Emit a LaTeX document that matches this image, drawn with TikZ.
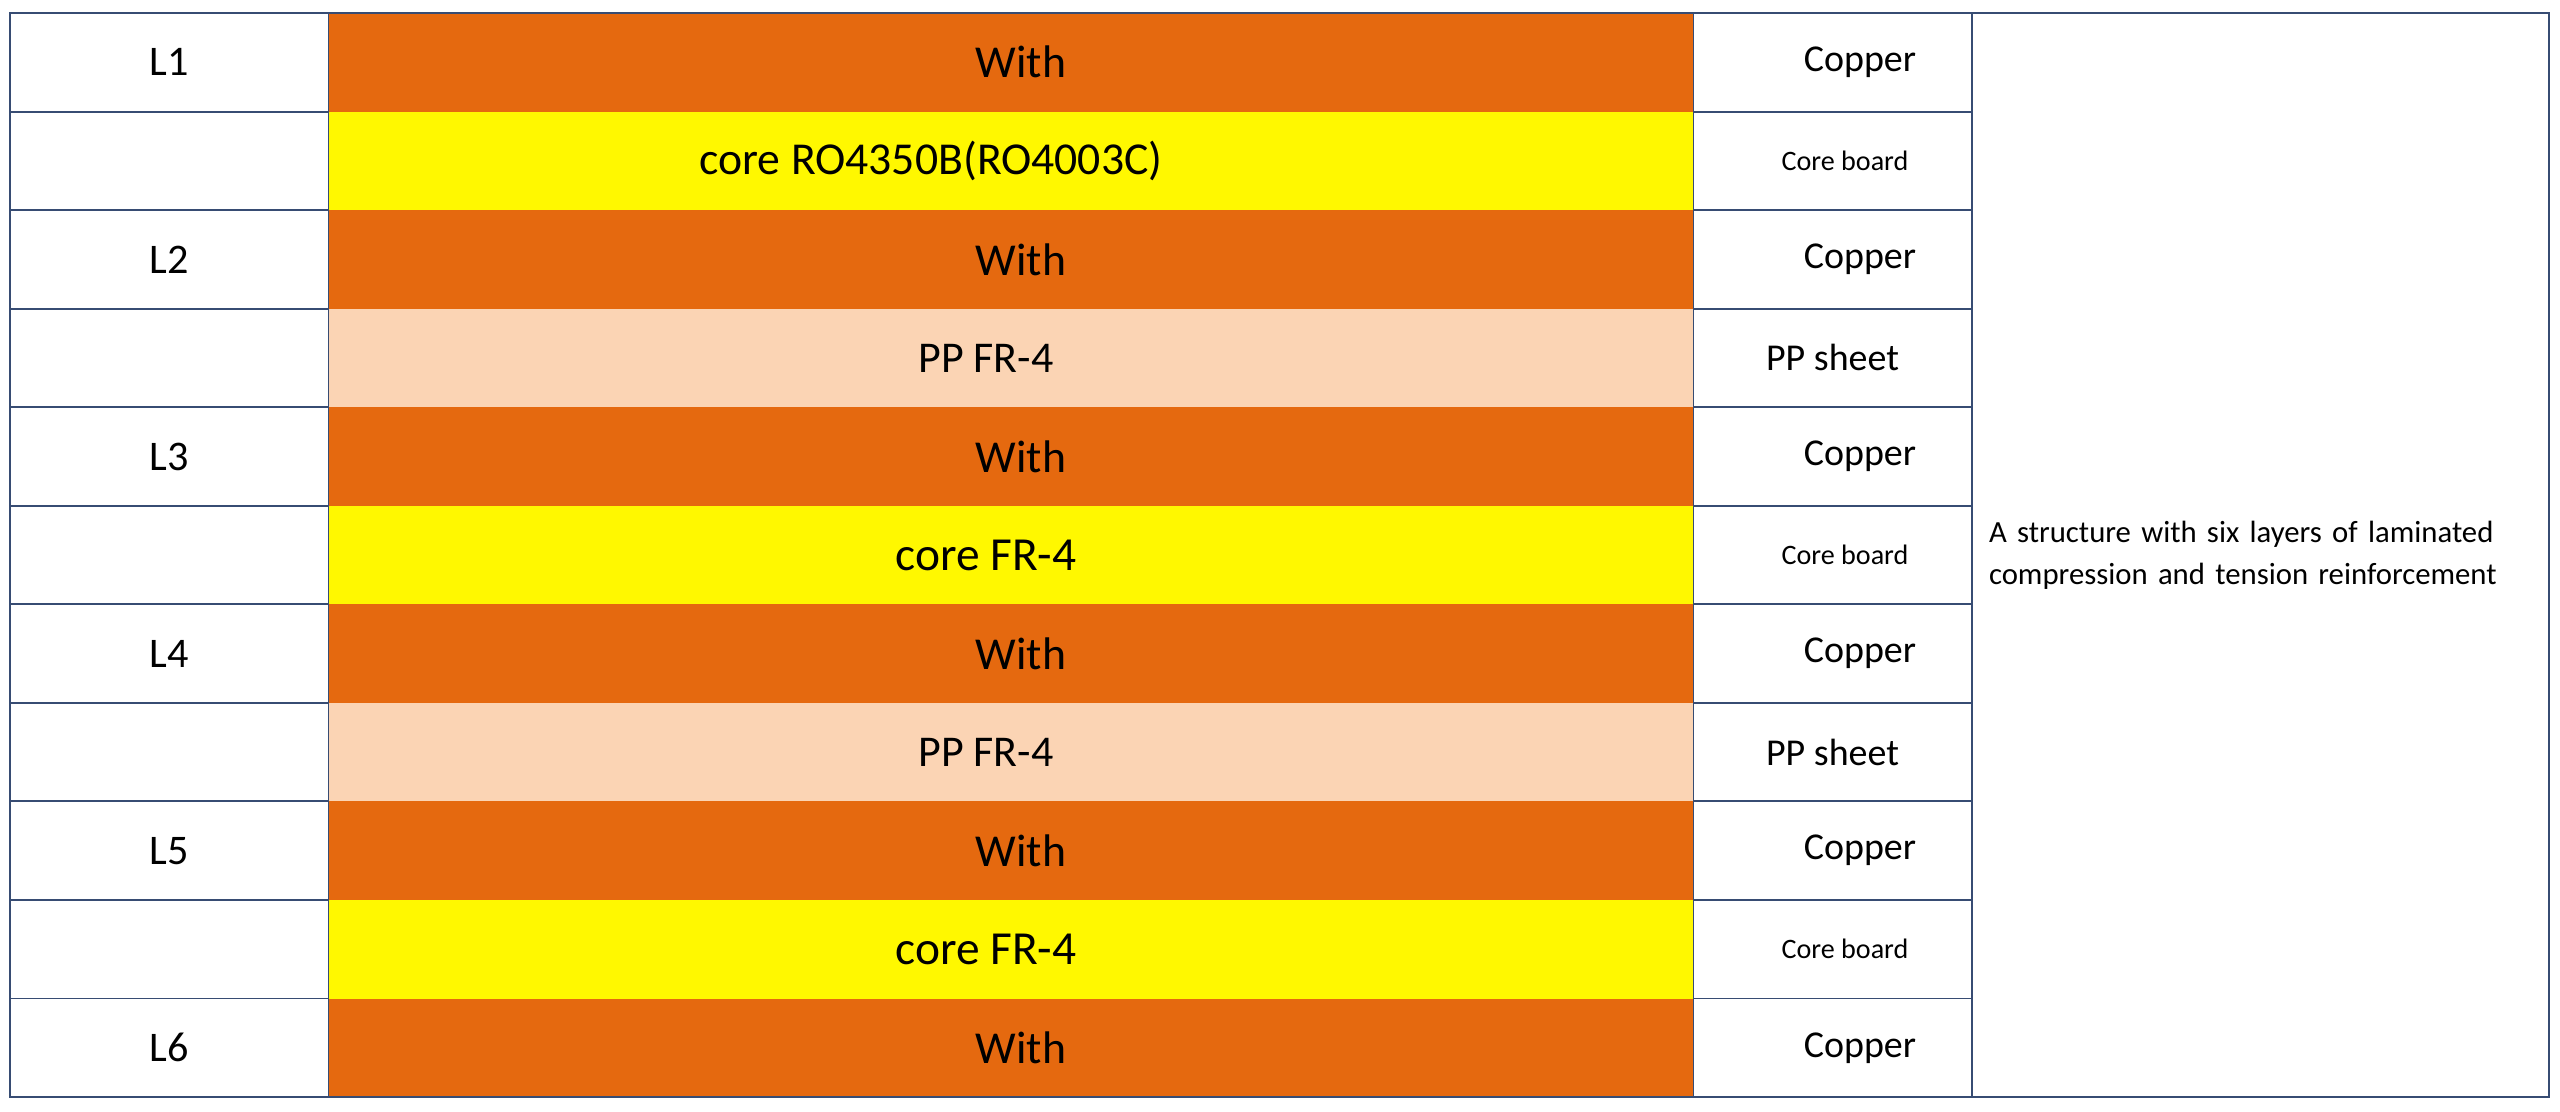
\documentclass[tikz,border=0pt]{standalone}
\usepackage{fontspec}
\setmainfont{Carlito}
\usetikzlibrary{positioning, backgrounds}

\definecolor{copperfill}{RGB}{229,105,15}
\definecolor{corefill}{RGB}{255,248,0}
\definecolor{ppfill}{RGB}{251,212,180}
\definecolor{gridline}{RGB}{55,76,115}

\begin{document}
\begin{tikzpicture}
    % Styles
    \tikzset{
        band/.style={rectangle, outer sep=0pt, inner sep=0pt, minimum width=27.28cm, minimum height=1.971cm},
        copper/.style={band, fill=copperfill, font=\fontsize{26}{31}\selectfont},
        core/.style={band, fill=corefill},
        pp/.style={band, fill=ppfill},
        band_text/.style={font=\fontsize{27}{32}\selectfont, xshift=-0.5cm},
        tag/.style={rectangle, draw=gridline, line width=1.1pt, outer sep=0pt, minimum width=6.38cm, minimum height=1.971cm, font=\fontsize{24}{29}\selectfont},
        kind/.style={tag, minimum width=5.58cm, font=\fontsize{21.6}{26}\selectfont},
        kind_small/.style={kind, font=\fontsize{16}{20}\selectfont},
        note/.style={rectangle, draw=gridline, line width=1.1pt, outer sep=0pt, minimum height=21.68cm, text width=10.86cm, inner xsep=0.34cm, align=left, font=\fontsize{17.5}{23.9}\selectfont}
    }

    \useasboundingbox (0,0) rectangle (51.2,-22.22);

    % --- Stack (middle column) ---
    \node[copper] (band1) at (20.22,-1.2455) {\hspace{0.4cm}With};
    \node[core, below=0pt of band1, label={[band_text, font=\fontsize{26}{31}\selectfont, xshift=-1.1cm]center:core RO4350B(RO4003C)}] (band2) {};
    \node[copper, below=0pt of band2] (band3) {\hspace{0.4cm}With};
    \node[pp, below=0pt of band3, label={[band_text, font=\fontsize{25}{30}\selectfont]center:PP FR-4}] (band4) {};
    \node[copper, below=0pt of band4] (band5) {\hspace{0.4cm}With};
    \node[core, below=0pt of band5, label={[band_text]center:core FR-4}] (band6) {};
    \node[copper, below=0pt of band6] (band7) {\hspace{0.4cm}With};
    \node[pp, below=0pt of band7, label={[band_text, font=\fontsize{25}{30}\selectfont]center:PP FR-4}] (band8) {};
    \node[copper, below=0pt of band8] (band9) {\hspace{0.4cm}With};
    \node[core, below=0pt of band9, label={[band_text]center:core FR-4}] (band10) {};
    \node[copper, below=0pt of band10] (band11) {\hspace{0.4cm}With};

    % --- Layer names and materials (behind the stack) ---
    \begin{scope}[on background layer]
        \node[tag, left=0pt of band1] (tag1) {L1};
        \node[tag, left=0pt of band2] (tag2) {};
        \node[tag, left=0pt of band3] (tag3) {L2};
        \node[tag, left=0pt of band4] (tag4) {};
        \node[tag, left=0pt of band5] (tag5) {L3};
        \node[tag, left=0pt of band6] (tag6) {};
        \node[tag, left=0pt of band7] (tag7) {L4};
        \node[tag, left=0pt of band8] (tag8) {};
        \node[tag, left=0pt of band9] (tag9) {L5};
        \node[tag, left=0pt of band10] (tag10) {};
        \node[tag, left=0pt of band11] (tag11) {L6};

        \node[kind, right=0pt of band1] (kind1) {\hspace{1.1cm}Copper};
        \node[kind_small, right=0pt of band2] (kind2) {\hspace{0.5cm}Core board};
        \node[kind, right=0pt of band3] (kind3) {\hspace{1.1cm}Copper};
        \node[kind, right=0pt of band4] (kind4) {PP sheet};
        \node[kind, right=0pt of band5] (kind5) {\hspace{1.1cm}Copper};
        \node[kind_small, right=0pt of band6] (kind6) {\hspace{0.5cm}Core board};
        \node[kind, right=0pt of band7] (kind7) {\hspace{1.1cm}Copper};
        \node[kind, right=0pt of band8] (kind8) {PP sheet};
        \node[kind, right=0pt of band9] (kind9) {\hspace{1.1cm}Copper};
        \node[kind_small, right=0pt of band10] (kind10) {\hspace{0.5cm}Core board};
        \node[kind, right=0pt of band11] (kind11) {\hspace{1.1cm}Copper};
    \end{scope}

    % --- Description ---
    \node[note, anchor=north west] (note) at (kind1.north east) {A structure with six layers of laminated\\compression and tension reinforcement};

    % Outer frame
    \draw[gridline, line width=1.1pt] (tag1.north west) rectangle (note.south east);

\end{tikzpicture}
\end{document}
